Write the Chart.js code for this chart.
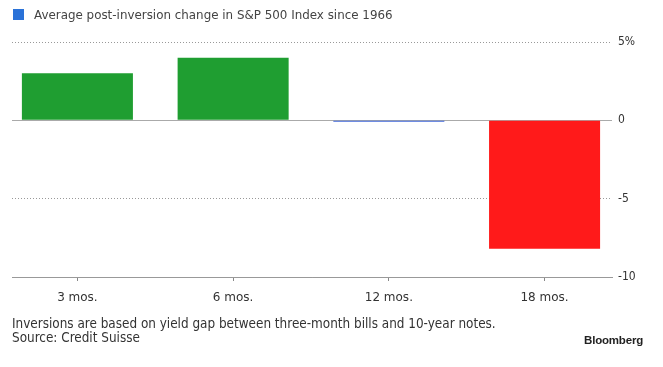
<!DOCTYPE html>
<html><head><meta charset="utf-8">
<script src="https://cdn.jsdelivr.net/npm/chart.js@4"></script>
<style>
html,body{margin:0;padding:0;background:#fff;width:663px;height:367px;overflow:hidden;}
#wrap{position:absolute;left:0;top:0;width:663px;height:367px;}
.t{position:absolute;white-space:nowrap;color:#444;}
#leg{left:13px;top:8px;font:11.9px "DejaVu Sans",sans-serif;}
#leg span{display:inline-block;width:11px;height:11px;background:#2a72d8;vertical-align:-1px;margin-right:10px;}
.foot{font:13.4px "DejaVu Sans Condensed",sans-serif;left:12px;color:#333;}
#bb{right:20px;top:334px;font:bold 11.5px "Liberation Sans",sans-serif;color:#222;letter-spacing:-0.2px;}
</style></head>
<body>
<div id="wrap"><canvas id="c" width="663" height="367"></canvas></div>
<div class="t" id="leg"><span></span>Average post-inversion change in S&amp;P 500 Index since 1966</div>
<div class="t foot" style="top:316px">Inversions are based on yield gap between three-month bills and 10-year notes.</div>
<div class="t foot" style="top:330px">Source: Credit Suisse</div>
<div class="t" id="bb">Bloomberg</div>
<script>
const categories = ["3 mos.", "6 mos.", "12 mos.", "18 mos."];
const values = [3.0, 4.0, -0.06, -8.2];
const barColors = ["#1f9e31", "#1f9e31", "#3f66d8", "#ff1a1a"];
const yTicks = [5, 0, -5, -10];
const yTickLabels = ["5%", "0", "-5", "-10"];

new Chart(document.getElementById('c'), {
  type: 'bar',
  data: {
    datasets: [{
      label: 'Average post-inversion change in S&P 500 Index since 1966',
      data: values.map((v, i) => ({x: i, y: v})),
      backgroundColor: barColors,
      borderWidth: 0,
      barPercentage: 0.713,
      categoryPercentage: 1.0,
      minBarLength: 1.5
    }]
  },
  options: {
    responsive: false,
    animation: false,
    events: [],
    layout: {padding: {left: 12, top: 42, right: 0, bottom: 0}},
    plugins: {legend: {display: false}, tooltip: {enabled: false}},
    scales: {
      x: {
        type: 'linear',
        offset: false,
        min: -0.42, max: 3.433,
        afterFit: s => { s.height = 90; },
        afterBuildTicks: s => { s.ticks = categories.map((c, i) => ({value: i})); },
        grid: {offset: false, drawOnChartArea: false, drawTicks: true, tickLength: 4, color: '#888', tickColor: '#888'},
        border: {display: true, color: '#999', width: 1},
        ticks: {color: '#333', padding: 10, font: {family: 'DejaVu Sans', size: 12},
          callback: v => categories[v] ?? ''}
      },
      y: {
        position: 'right',
        min: -10, max: 5,
        afterFit: s => { s.width = 51; },
        afterBuildTicks: s => { s.ticks = yTicks.map(v => ({value: v})); },
        grid: {
          drawTicks: false,
          color: ctx => (ctx.tick && (ctx.tick.value === 0 || ctx.tick.value === -10)) ? '#aaa' : '#999',
          lineWidth: 1
        },
        border: {
          display: false,
          dash: ctx => (ctx.tick && (ctx.tick.value === 0 || ctx.tick.value === -10)) ? [] : [1, 2]
        },
        ticks: {
          color: '#333', padding: 6,
          font: {family: '"DejaVu Sans Condensed", sans-serif', size: 12},
          callback: (v) => { const i = yTicks.indexOf(v); return i >= 0 ? yTickLabels[i] : ''; }
        }
      }
    }
  }
});
</script>
</body></html>
